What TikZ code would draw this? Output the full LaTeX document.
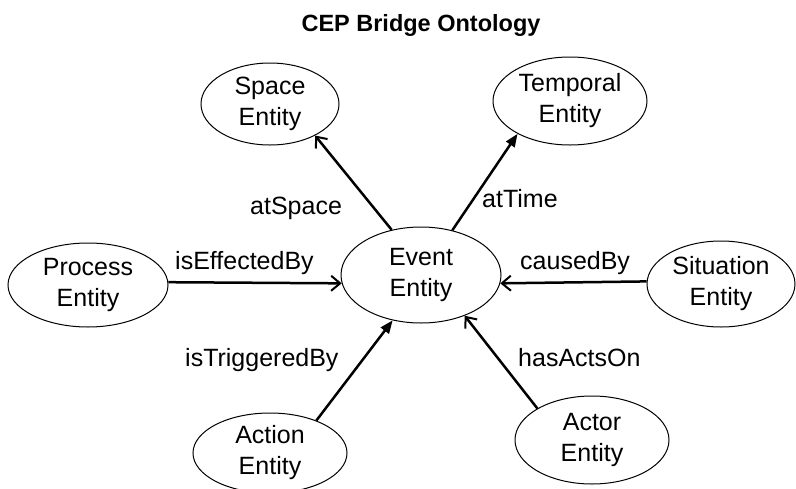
\documentclass[tikz,border=0pt]{standalone}
\usepackage{fontspec}
\setmainfont{Liberation Sans}
\usetikzlibrary{shapes.geometric,arrows.meta}
\begin{document}
\begin{tikzpicture}[x=1pt,y=-1pt,
  ent/.style={ellipse,draw,line width=1pt,inner sep=0pt,align=center,font=\fontsize{25}{31}\selectfont},
  lbl/.style={anchor=base west,inner sep=0pt,font=\fontsize{25}{28}\selectfont},
  rel/.style={line width=2.5pt},
  opentip/.style={-{Straight Barb[length=9pt,width=15pt,line width=2pt]}},
  filledtip/.style={-{Triangle[length=13pt,width=10pt]}}]
\fill[white] (0,0) rectangle (796,488);
\path[use as bounding box] (0,0) rectangle (796,488);
\node[font=\fontsize{23.5}{26}\selectfont\bfseries,anchor=base,inner sep=0pt] (title) at (421,31) {CEP Bridge Ontology};
\node[ent,minimum width=138pt,minimum height=82pt] (sp) at (270,104) {Space\\Entity};
\node[ent,minimum width=154pt,minimum height=88pt] (tp) at (570,101) {Temporal\\Entity};
\node[ent,minimum width=160pt,minimum height=84pt] (pr) at (88,285) {Process\\Entity};
\node[ent,minimum width=160pt,minimum height=96pt] (ev) at (421,275) {Event\\Entity};
\node[ent,minimum width=148pt,minimum height=86pt] (si) at (721,284) {Situation\\Entity};
\node[ent,minimum width=154pt,minimum height=80pt] (ac) at (270,453) {Action\\Entity};
\node[ent,minimum width=154pt,minimum height=88pt] (ar) at (592,440) {Actor\\Entity};
\draw[rel,opentip] (ev.123) -- (sp.-35);
\draw[rel,filledtip] (ev.55) -- (tp.-148);
\draw[rel,opentip] (pr.2) -- (ev.186);
\draw[rel,opentip] (si.178) -- (ev.-6);
\draw[rel,filledtip] (ac.35) -- (ev.-122);
\draw[rel,opentip] (ar.150) -- (ev.-43);
\node[lbl] (lsp) at (250,214) {atSpace};
\node[lbl] (ltp) at (482,207) {atTime};
\node[lbl] (lpr) at (175,269) {isEffectedBy};
\node[lbl] (lsi) at (520,269) {causedBy};
\node[lbl] (lac) at (185,366) {isTriggeredBy};
\node[lbl] (lar) at (518,366) {hasActsOn};
\end{tikzpicture}
\end{document}
